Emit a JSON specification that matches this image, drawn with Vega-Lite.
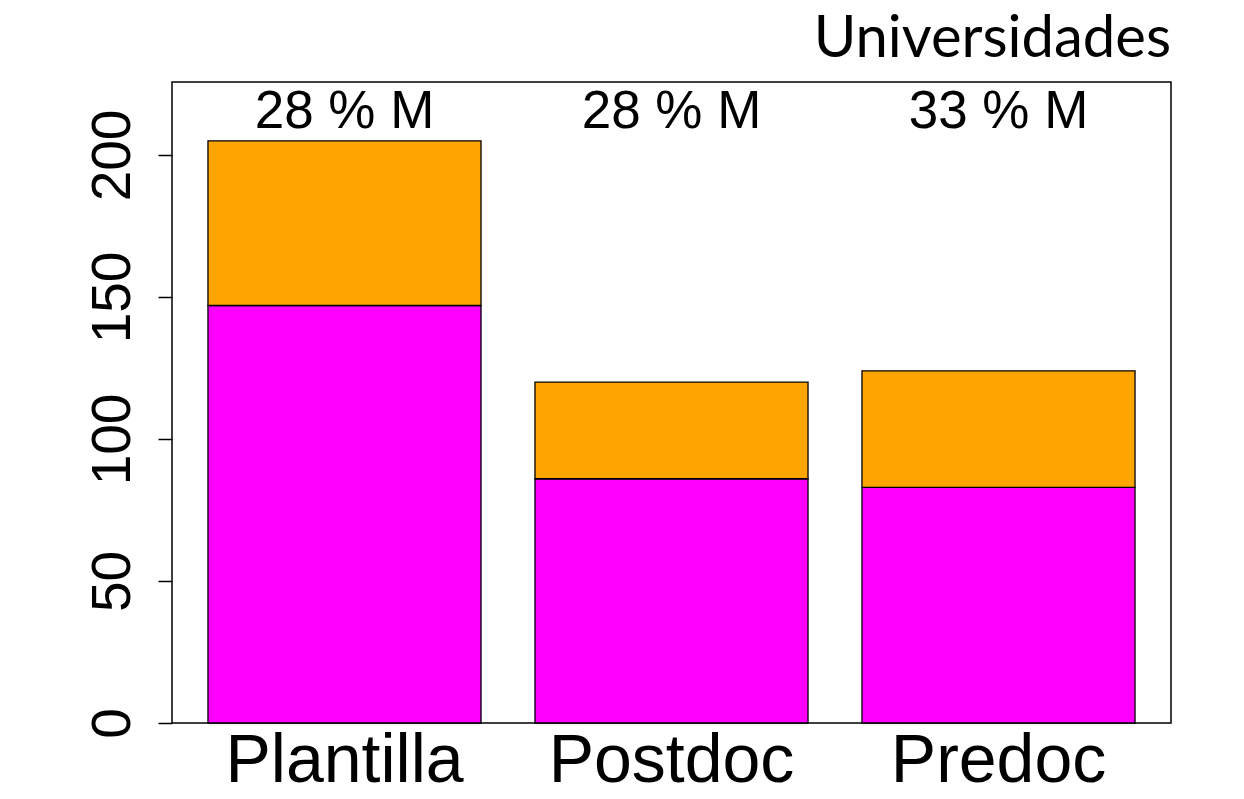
{
  "$schema": "https://vega.github.io/schema/vega-lite/v6.json",
  "width": 999,
  "height": 641,
  "autosize": {"type": "none"},
  "padding": {"left": 172, "top": 82, "right": 73, "bottom": 76},
  "background": "white",
  "config": {
    "view": {"stroke": "black", "strokeWidth": 1.5},
    "font": "Liberation Sans"
  },
  "title": {
    "text": "Universidades",
    "anchor": "end",
    "font": "Lato",
    "fontSize": 58,
    "fontWeight": "normal",
    "color": "black",
    "baseline": "alphabetic",
    "offset": -33
  },
  "data": {
    "values": [
      {"categoria": "Plantilla", "sexo": "H", "n": 147, "orden": 1},
      {"categoria": "Plantilla", "sexo": "M", "n": 58, "orden": 2},
      {"categoria": "Postdoc", "sexo": "H", "n": 86, "orden": 1},
      {"categoria": "Postdoc", "sexo": "M", "n": 34, "orden": 2},
      {"categoria": "Predoc", "sexo": "H", "n": 83, "orden": 1},
      {"categoria": "Predoc", "sexo": "M", "n": 41, "orden": 2}
    ]
  },
  "encoding": {
    "x": {
      "field": "categoria",
      "type": "nominal",
      "scale": {"paddingInner": 0.165, "paddingOuter": 0.11},
      "axis": {
        "title": null,
        "labelAngle": 0,
        "ticks": false,
        "domain": false,
        "labelFontSize": 68,
        "labelColor": "black",
        "labelPadding": 58,
        "labelBaseline": "alphabetic",
        "labelFont": "Liberation Sans",
        "labelLimit": 0
      }
    }
  },
  "layer": [
    {
      "mark": {"type": "bar", "stroke": "black", "strokeWidth": 1.3},
      "encoding": {
        "y": {
          "field": "n",
          "type": "quantitative",
          "stack": "zero",
          "scale": {"domain": [0, 225.7], "nice": false, "zero": true},
          "axis": {
            "title": null,
            "values": [0, 50, 100, 150, 200],
            "domain": false,
            "grid": false,
            "tickColor": "black",
            "tickSize": 14,
            "tickWidth": 1.5,
            "labelAngle": -90,
            "labelAlign": "center",
            "labelBaseline": "alphabetic",
            "labelFontSize": 55,
            "labelColor": "black",
            "labelPadding": 29,
            "labelFont": "Liberation Sans"
          }
        },
        "color": {
          "field": "sexo",
          "type": "nominal",
          "scale": {"domain": ["H", "M"], "range": ["#FF00FF", "#FFA500"]},
          "legend": null
        },
        "order": {"field": "orden", "type": "quantitative"}
      }
    },
    {
      "data": {
        "values": [
          {"categoria": "Plantilla", "etiqueta": "28 % M"},
          {"categoria": "Postdoc", "etiqueta": "28 % M"},
          {"categoria": "Predoc", "etiqueta": "33 % M"}
        ]
      },
      "mark": {
        "type": "text",
        "fontSize": 53,
        "baseline": "alphabetic",
        "align": "center",
        "color": "black",
        "font": "Liberation Sans"
      },
      "encoding": {
        "text": {"field": "etiqueta", "type": "nominal"},
        "y": {"datum": 209.5}
      }
    }
  ]
}
